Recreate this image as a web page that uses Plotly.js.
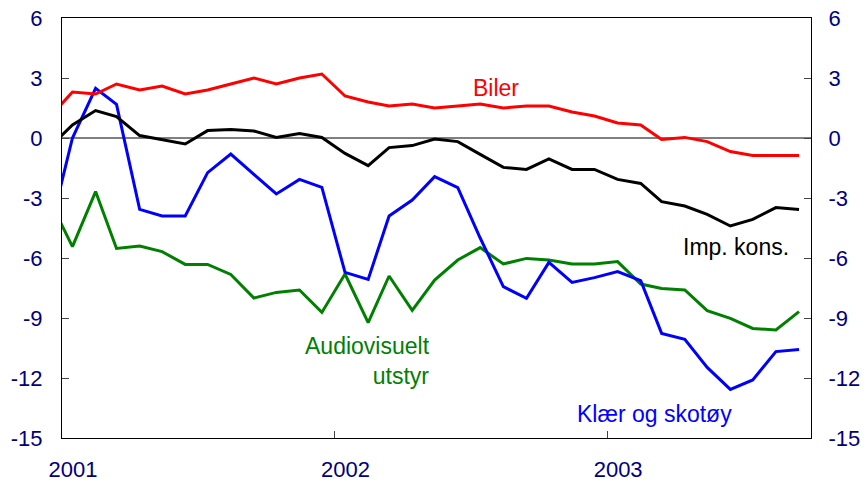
<!DOCTYPE html>
<html>
<head>
<meta charset="utf-8">
<script src="https://cdn.plot.ly/plotly-3.0.1.min.js"></script>
<style>html,body{margin:0;padding:0;background:#fff;}#chart{width:867px;height:483px;}</style>
</head>
<body>
<div id="chart"></div>
<script>
// Monthly observations (Dec 2000 – Sep 2003), 12-month change in per cent
var months = ['2000-12',
  '2001-01','2001-02','2001-03','2001-04','2001-05','2001-06','2001-07','2001-08','2001-09','2001-10','2001-11','2001-12',
  '2002-01','2002-02','2002-03','2002-04','2002-05','2002-06','2002-07','2002-08','2002-09','2002-10','2002-11','2002-12',
  '2003-01','2003-02','2003-03','2003-04','2003-05','2003-06','2003-07','2003-08','2003-09'];

var biler = [1.03,
  2.3, 2.2, 2.7, 2.4, 2.6, 2.2, 2.4, 2.7, 3.0, 2.7, 3.0, 3.2,
  2.1, 1.8, 1.6, 1.7, 1.5, 1.6, 1.7, 1.5, 1.6, 1.6, 1.3, 1.1,
  0.75, 0.65, -0.07, 0.03, -0.18, -0.68, -0.88, -0.88, -0.88];

var impKons = [-0.48,
  0.65, 1.37, 1.07, 0.12, -0.07, -0.3, 0.37, 0.43, 0.35, 0.03, 0.23, 0.03,
  -0.77, -1.38, -0.48, -0.38, -0.05, -0.18, -0.82, -1.47, -1.57, -1.05, -1.57, -1.57,
  -2.07, -2.27, -3.18, -3.4, -3.82, -4.4, -4.07, -3.48, -3.57];

var klaer = [-4.74,
  0.0, 2.48, 1.68, -3.57, -3.9, -3.9, -1.73, -0.8, -1.8, -2.8, -2.07, -2.47,
  -6.72, -7.07, -3.9, -3.1, -1.93, -2.48, -5.0, -7.43, -8.02, -6.22, -7.22, -6.98,
  -6.68, -7.13, -9.77, -10.07, -11.47, -12.57, -12.1, -10.68, -10.57];

var audio = [-3.09,
  -5.43, -2.68, -5.52, -5.4, -5.68, -6.32, -6.32, -6.82, -8.0, -7.72, -7.6, -8.72,
  -6.8, -9.23, -6.9, -8.62, -7.1, -6.1, -5.48, -6.3, -6.02, -6.1, -6.3, -6.3,
  -6.18, -7.3, -7.52, -7.6, -8.63, -9.02, -9.52, -9.6, -8.68];

var yTicks = [-15, -12, -9, -6, -3, 0, 3, 6];
var yTickText = yTicks.map(function (v) { return String(v); });
var xTickVals = ['2001-01-01', '2002-01-01', '2003-01-01'];
var xTickText = ['2001', '2002', '2003'];

var xs = months.map(function (m) { return m + '-15'; });

var FONT = 'Liberation Sans, Arial, sans-serif';
var NAVY = '#000080';

function line(y, color) {
  return { x: xs, y: y, type: 'scatter', mode: 'lines', line: { color: color, width: 3 }, hoverinfo: 'skip', showlegend: false };
}

var data = [
  line(audio, '#008000'),
  line(klaer, '#0000ff'),
  line(impKons, '#000000'),
  line(biler, '#ff0000'),
  // invisible trace so the right-hand axis is drawn
  { x: [xs[1]], y: [0], yaxis: 'y2', type: 'scatter', mode: 'markers', marker: { opacity: 0, size: 1 }, hoverinfo: 'skip', showlegend: false }
];

var axisY = {
  range: [-15, 6], tickvals: yTicks, ticktext: yTickText, ticks: 'inside', ticklen: 7, tickcolor: '#444',
  showgrid: false, showline: true, linecolor: '#000', linewidth: 1,
  tickfont: { family: FONT, size: 22, color: NAVY }, zeroline: false, fixedrange: true
};

var layout = {
  width: 867, height: 483,
  margin: { l: 62, r: 56, t: 18, b: 45 },
  paper_bgcolor: '#fff', plot_bgcolor: '#fff',
  xaxis: {
    type: 'date', range: ['2001-01-01', '2003-10-01'],
    tickvals: xTickVals, ticktext: xTickText,
    ticks: 'inside', ticklen: 7, tickcolor: '#444',
    showgrid: false, showline: true, linecolor: '#000', linewidth: 1,
    mirror: true, zeroline: false,
    tickfont: { family: FONT, size: 22, color: NAVY },
    ticklabelshift: 11, ticklabelstandoff: 12
  },
  yaxis: Object.assign({}, axisY, { side: 'left', ticklabelstandoff: 14 }),
  yaxis2: Object.assign({}, axisY, { side: 'right', overlaying: 'y', ticklabelstandoff: 12 }),
  shapes: [{
    type: 'line', xref: 'paper', x0: 0, x1: 1, yref: 'y', y0: 0, y1: 0,
    line: { color: '#000', width: 1 }, layer: 'below'
  }],
  annotations: [
    { text: 'Biler', xanchor: 'center', yanchor: 'middle', xref: 'paper', yref: 'y', showarrow: false,
      font: { family: FONT, size: 23, color: '#ff0000' } },
    { text: 'Imp. kons.', xanchor: 'center', yanchor: 'middle', xref: 'paper', yref: 'y', showarrow: false,
      font: { family: FONT, size: 23, color: '#000' } },
    { text: 'Audiovisuelt<br>utstyr', xanchor: 'center', yanchor: 'middle', xref: 'paper', yref: 'y', showarrow: false, align: 'right',
      font: { family: FONT, size: 23, color: '#008000' } },
    { text: 'Klær og skotøy', xanchor: 'center', yanchor: 'middle', xref: 'paper', yref: 'y', showarrow: false,
      font: { family: FONT, size: 23, color: '#0000ff' } }
  ]
};

// label centres in pixels -> y value: (138 - py)/20, paper x: (px - 62)/749
var labelPx = [[496, 88], [736, 247], [367, 361], [654, 414]];
labelPx.forEach(function (p, i) {
  layout.annotations[i].x = (p[0] - 62) / 749;
  layout.annotations[i].y = (138 - p[1]) / 20;
});

Plotly.newPlot('chart', data, layout, { staticPlot: true, displayModeBar: false });
</script>
</body>
</html>
